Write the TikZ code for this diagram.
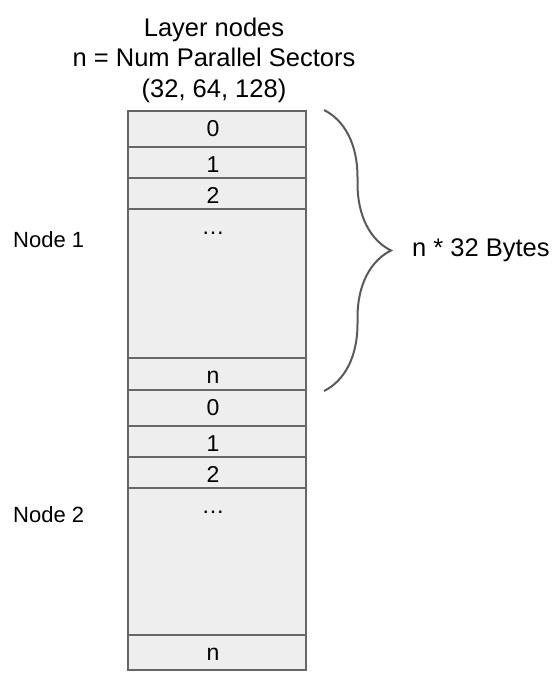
\documentclass[tikz,border=0pt]{standalone}
\usepackage{fontspec}
\setmainfont{Liberation Sans}
\usetikzlibrary{positioning,decorations.pathreplacing}
\definecolor{cellfill}{HTML}{EEEEEE}
\definecolor{cellline}{HTML}{666666}
\definecolor{braceline}{HTML}{5A5A5A}
\begin{document}
\begin{tikzpicture}[x=1pt,y=-1pt,
    cell/.style={draw=cellline,fill=cellfill,line width=2pt,minimum width=178pt,inner sep=0pt,anchor=north},
    celltext/.style={anchor=base,inner sep=0pt,font=\fontsize{23}{23}\selectfont},
    side/.style={anchor=base west,inner sep=0pt,font=\fontsize{22}{22}\selectfont},
    bigtext/.style={inner sep=0pt,font=\fontsize{25.5}{30.5}\selectfont}]
  \useasboundingbox (0,0) rectangle (554,697);
  \node[bigtext,anchor=base,align=center] (title) at (214,97)
    {Layer nodes\\n = Num Parallel Sectors\\(32, 64, 128)};
  % sector cells, node 1 then node 2
  \foreach \name/\top/\h/\txt in {a0/110/36/0, a1/146/31/1, a2/177/31/2, a3/208/149/…, a4/357/32/n,
                                   b0/389/36/0, b1/425/31/1, b2/456/31/2, b3/487/147/…, b4/634/35/n}
  {
    \node[cell,minimum height=\h pt] (\name) at (217,\top) {};
    \node[celltext] (\name-t) at ([xshift=-4pt,yshift=-26pt]\name.north) {\txt};
  }
  \node[side] (node1) at (13,247) {Node 1};
  \node[side] (node2) at (13,522) {Node 2};
  \draw[braceline,line width=2pt,decorate,decoration={brace,amplitude=67pt}]
    ([xshift=17pt]a0.north east) -- ([xshift=17pt]a4.south east);
  \node[bigtext,anchor=base west] (bytes) at (412,256) {n * 32 Bytes};
\end{tikzpicture}
\end{document}
